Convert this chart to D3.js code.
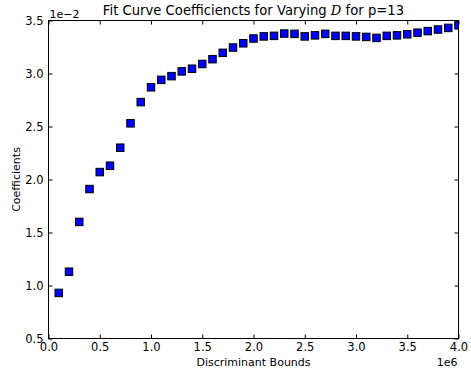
<!DOCTYPE html>
<html><head><meta charset="utf-8">
<script src="https://cdn.jsdelivr.net/npm/d3@7"></script>
<style>body{margin:0;background:#fff}svg{display:block}text{font-family:"DejaVu Sans",sans-serif;fill:#000}</style>
</head><body><div id="chart"></div>
<script>
const bounds = [0.1,0.2,0.3,0.4,0.5,0.6,0.7,0.8,0.9,1.0,1.1,1.2,1.3,1.4,1.5,1.6,1.7,1.8,1.9,2.0,2.1,2.2,2.3,2.4,2.5,2.6,2.7,2.8,2.9,3.0,3.1,3.2,3.3,3.4,3.5,3.6,3.7,3.8,3.9,4.0];
const coeffs = [0.93,1.13,1.60,1.91,2.07,2.13,2.30,2.53,2.73,2.87,2.94,2.975,3.02,3.045,3.09,3.135,3.195,3.245,3.285,3.33,3.35,3.355,3.377,3.374,3.35,3.36,3.374,3.355,3.355,3.35,3.345,3.336,3.355,3.36,3.37,3.385,3.40,3.415,3.43,3.455];
const xTicks = [0.0,0.5,1.0,1.5,2.0,2.5,3.0,3.5,4.0];
const yTicks = [0.5,1.0,1.5,2.0,2.5,3.0,3.5];

const W=471,H=378, L=48.5, R=458.5, T=20.5, B=338.5;
const svg=d3.select("#chart").append("svg").attr("width",W).attr("height",H);
const x=d3.scaleLinear().domain([0,4]).range([L,R]);
const y=d3.scaleLinear().domain([0.5,3.5]).range([B,T]);

svg.append("defs").append("clipPath").attr("id","clip").append("rect")
  .attr("x",L).attr("y",T).attr("width",R-L).attr("height",B-T);

const g=svg.append("g").attr("clip-path","url(#clip)");
const s=7.5;
g.selectAll("rect.pt").data(bounds).enter().append("rect").attr("class","pt")
  .attr("x",(d)=>x(d)-s/2).attr("y",(d,i)=>y(coeffs[i])-s/2)
  .attr("width",s).attr("height",s)
  .attr("fill","#0000ff").attr("stroke","#000").attr("stroke-width",1);

// frame
svg.append("rect").attr("x",L).attr("y",T).attr("width",R-L).attr("height",B-T)
  .attr("fill","none").attr("stroke","#000").attr("stroke-width",1);

const tl=4;
const fmt=d3.format(".1f");
const xa=d3.axisBottom(x).tickValues(xTicks).tickFormat(fmt).tickSizeInner(-tl).tickSizeOuter(0).tickPadding(4);
const gx=svg.append("g").attr("transform",`translate(0,${B})`).call(xa);
gx.select(".domain").remove();
gx.selectAll("text").attr("font-size",11.5).attr("font-family","DejaVu Sans").attr("fill","#222");
const xt=d3.axisTop(x).tickValues(xTicks).tickFormat("").tickSizeInner(-tl).tickSizeOuter(0);
const gxt=svg.append("g").attr("transform",`translate(0,${T})`).call(xt);
gxt.select(".domain").remove();

const ya=d3.axisLeft(y).tickValues(yTicks).tickFormat(fmt).tickSizeInner(-tl).tickSizeOuter(0).tickPadding(5);
const gy=svg.append("g").attr("transform",`translate(${L},0)`).call(ya);
gy.select(".domain").remove();
gy.selectAll("text").attr("font-size",11.5).attr("font-family","DejaVu Sans").attr("fill","#222");
const yr=d3.axisRight(y).tickValues(yTicks).tickFormat("").tickSizeInner(-tl).tickSizeOuter(0);
const gyr=svg.append("g").attr("transform",`translate(${R},0)`).call(yr);
gyr.select(".domain").remove();
svg.selectAll(".tick line").attr("stroke","#000");

svg.append("text").attr("x",L+1).attr("y",T-3).attr("font-size",11).text("1e\u22122");
svg.append("text").attr("x",R-1).attr("y",366).attr("text-anchor","end").attr("font-size",11).text("1e6");

svg.append("text").attr("x",(L+R)/2).attr("y",366).attr("text-anchor","middle").attr("font-size",11).text("Discriminant Bounds");
svg.append("text").attr("transform",`translate(20,${(T+B)/2}) rotate(-90)`).attr("text-anchor","middle").attr("font-size",11).text("Coefficients");

const title=svg.append("text").attr("x",(L+R)/2).attr("y",15).attr("text-anchor","middle").attr("font-size",13.2);
title.append("tspan").text("Fit Curve Coefficiencts for Varying ");
title.append("tspan").attr("font-style","italic").attr("font-family","DejaVu Serif").text("D");
title.append("tspan").text(" for p=13");
</script></body></html>
